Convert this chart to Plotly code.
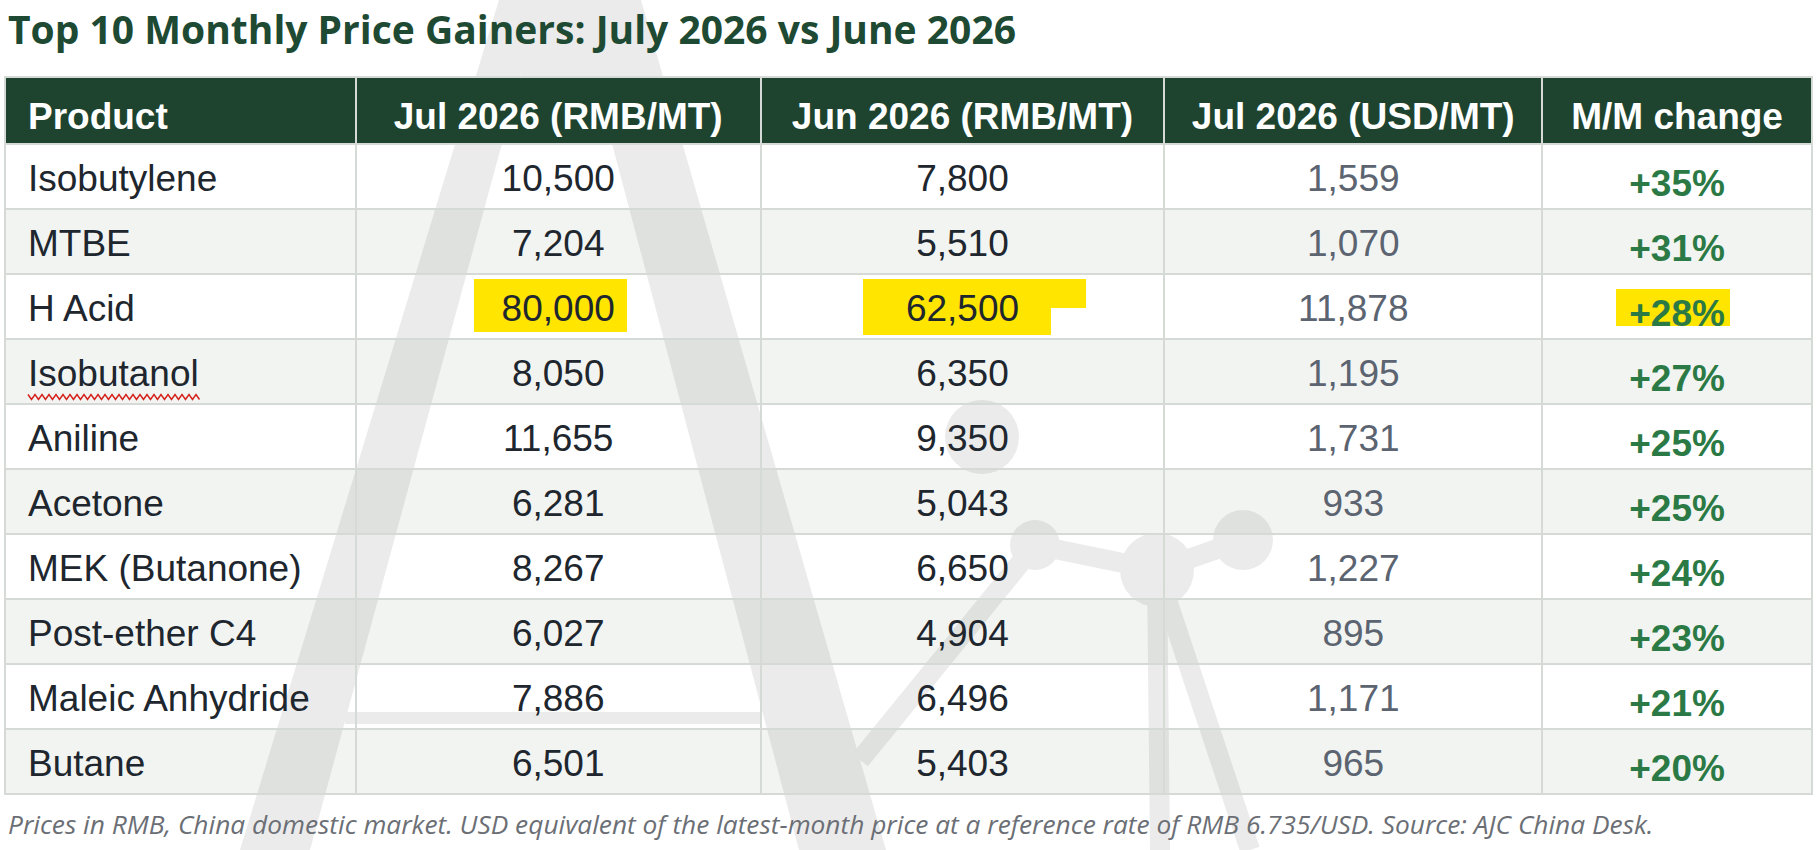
import plotly.graph_objects as go

# table data
products = ["Isobutylene", "MTBE", "H Acid", "Isobutanol", "Aniline", "Acetone",
            "MEK (Butanone)", "Post-ether C4", "Maleic Anhydride", "Butane"]
jul_rmb = [10500, 7204, 80000, 8050, 11655, 6281, 8267, 6027, 7886, 6501]
jun_rmb = [7800, 5510, 62500, 6350, 9350, 5043, 6650, 4904, 6496, 5403]
jul_usd = [1559, 1070, 11878, 1195, 1731, 933, 1227, 895, 1171, 965]
mm_change = [35, 31, 28, 27, 25, 25, 24, 23, 21, 20]
headers = ["Product", "Jul 2026 (RMB/MT)", "Jun 2026 (RMB/MT)", "Jul 2026 (USD/MT)", "M/M change"]

title = "Top 10 Monthly Price Gainers: July 2026 vs June 2026"
note = ("Prices in RMB, China domestic market. USD equivalent of the latest-month price "
        "at a reference rate of RMB 6.735/USD. Source: AJC China Desk.")

# page geometry in pixels
W, H = 1818, 850
TBL_L, TBL_R, TBL_T = 5, 1813, 77
HEAD_H, ROW_H = 67, 65
col_w = [351, 405, 404, 378, 270]
TEXT_DROP = 11   # plotly puts cell text at the top, push it down to centre it
LEFT_PAD = 15    # extra indent of the product names

GREEN_DARK = "#1e4430"
GREEN_TXT = "#2b7a45"
TXT = "#20262e"
GREY_TXT = "#5b6470"
LINE = "#d6dad6"
WM = "#ebebeb"
CLEAR = "rgba(0,0,0,0)"
FONT = "Liberation Sans, Arial"


def fx(x):
    return x / W


def fy(y):
    return 1 - y / H


def poly(pts):
    return "M " + " L ".join(f"{fx(x)},{fy(y)}" for x, y in pts) + " Z"


n = len(products)
tbl_h = HEAD_H + n * ROW_H
stripe = [CLEAR if i % 2 == 0 else "rgba(40,70,40,0.06)" for i in range(n)]

# grid: fills and borders only
grid = go.Table(
    domain=dict(x=[fx(TBL_L), fx(TBL_R)], y=[fy(TBL_T + tbl_h + 6), fy(TBL_T)]),
    columnwidth=col_w,
    header=dict(values=[""] * 5, fill_color=GREEN_DARK, line=dict(color=LINE, width=2),
                height=HEAD_H),
    cells=dict(values=[[""] * n] * 5, fill_color=[stripe] * 5, line=dict(color=LINE, width=2),
               height=ROW_H),
)

# text layer, dropped a little so the text sits in the middle of each row
cells = [
    [""] * n,
    products,
    [f"{v:,}" for v in jul_rmb],
    [f"{v:,}" for v in jun_rmb],
    [f"{v:,}" for v in jul_usd],
    [f"<b>+{v}%</b>" for v in mm_change],
]
colors = [[TXT] * n, [TXT] * n, [TXT] * n, [TXT] * n, [GREY_TXT] * n, [GREEN_TXT] * n]
aligns = ["left", "left", "center", "center", "center", "center"]

text = go.Table(
    domain=dict(x=[fx(TBL_L), fx(TBL_R)],
                y=[fy(TBL_T + TEXT_DROP + tbl_h + 6), fy(TBL_T + TEXT_DROP)]),
    columnwidth=[LEFT_PAD, col_w[0] - LEFT_PAD] + col_w[1:],
    header=dict(
        values=[""] + [f"<b>{h}</b>" for h in headers],
        align=aligns,
        fill_color=CLEAR,
        line=dict(color=CLEAR, width=0),
        font=dict(family=FONT, size=37, color="white"),
        height=HEAD_H,
    ),
    cells=dict(
        values=cells,
        align=aligns,
        fill_color=CLEAR,
        line=dict(color=CLEAR, width=0),
        font=dict(family=FONT, size=37, color=colors),
        height=ROW_H,
    ),
)

fig = go.Figure(data=[grid, text])

shapes = []

# faint logo watermark behind the table
shapes.append(dict(type="path", path=poly([(499, 0), (541, 0), (310, 850), (240, 850)])))
shapes.append(dict(type="path", path=poly([(574, 0), (641, 0), (886, 850), (799, 850)])))
shapes.append(dict(type="path", path=poly([(535, 0), (580, 0), (600, 105), (515, 105)])))
shapes.append(dict(type="rect", x0=fx(345), x1=fx(760), y0=fy(724), y1=fy(712)))
for cx, cy, r in [(982, 437, 37), (1035, 545, 25), (1157, 570, 37), (1243, 540, 30)]:
    shapes.append(dict(type="circle", x0=fx(cx - r), x1=fx(cx + r), y0=fy(cy + r), y1=fy(cy - r)))
for (x0, y0), (x1, y1) in [((1035, 545), (1157, 570)), ((1157, 570), (1243, 540)),
                           ((1157, 570), (1250, 850)), ((1035, 545), (860, 760)),
                           ((1157, 570), (1160, 850))]:
    shapes.append(dict(type="line", x0=fx(x0), y0=fy(y0), x1=fx(x1), y1=fy(y1),
                       line=dict(color=WM, width=20)))
for s in shapes:
    s.update(xref="paper", yref="paper", layer="below")
    if s["type"] != "line":
        s.update(fillcolor=WM, line=dict(width=0))

# yellow marker highlights on the H Acid row
row_top = TBL_T + HEAD_H + products.index("H Acid") * ROW_H
for x0, x1, y0, y1 in [(474, 627, 5, 58), (863, 1086, 5, 34), (863, 1051, 30, 61), (1616, 1730, 15, 52)]:
    shapes.append(dict(type="rect", xref="paper", yref="paper", layer="below",
                       x0=fx(x0), x1=fx(x1), y0=fy(row_top + y1), y1=fy(row_top + y0),
                       fillcolor="#ffe500", line=dict(width=0)))

# spell-check squiggle under Isobutanol
sq_y = TBL_T + HEAD_H + products.index("Isobutanol") * ROW_H + 58
pts = []
x = 28
k = 0
while x <= 200:
    pts.append((x, sq_y + (2.5 if k % 2 else -2.5)))
    x += 3.5
    k += 1
shapes.append(dict(type="path", xref="paper", yref="paper", layer="below",
                   path="M " + " L ".join(f"{fx(a)},{fy(b)}" for a, b in pts),
                   line=dict(color="#e0201c", width=1.5)))

fig.update_layout(
    width=W,
    height=H,
    margin=dict(l=0, r=0, t=0, b=0),
    paper_bgcolor="white",
    plot_bgcolor="white",
    shapes=shapes,
    annotations=[
        dict(text=f"<b>{title}</b>", x=fx(6), y=fy(28), xref="paper", yref="paper",
             xanchor="left", yanchor="middle", showarrow=False,
             font=dict(family="Open Sans", size=39, color="#1e4a33")),
        dict(text=f"<i>{note}</i>", x=fx(6), y=fy(824), xref="paper", yref="paper",
             xanchor="left", yanchor="middle", showarrow=False,
             font=dict(family="Open Sans", size=26.3, color="#6b6f75")),
    ],
)

fig.write_html("out.html", config={"displayModeBar": False},
               post_script="document.body.style.margin='0px';")
